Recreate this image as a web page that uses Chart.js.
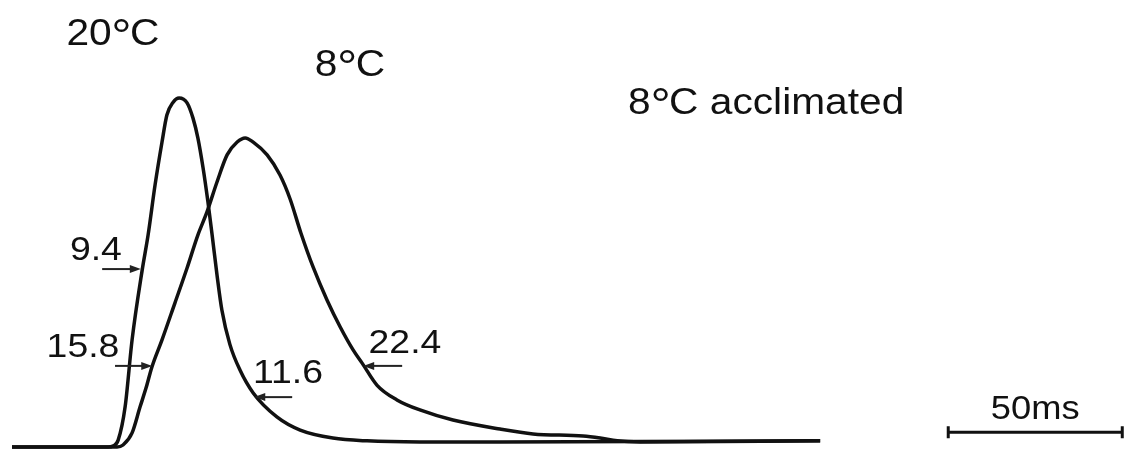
<!DOCTYPE html>
<html>
<head>
<meta charset="utf-8">
<script src="https://cdn.jsdelivr.net/npm/chart.js@4/dist/chart.umd.min.js"></script>
<style>
  html, body { margin: 0; padding: 0; background: #fff; }
  #wrap { width: 1124px; height: 449px; position: relative; }
</style>
</head>
<body>
<div id="wrap"><canvas id="chart"></canvas></div>
<script>
// twitch traces, time in ms, amplitude relative to 20°C peak
const time20 = [0, 27.6, 29.0, 30.5, 32.5, 34.5, 37.4, 39.1, 41.1, 43.1, 44.5, 46.3, 48.0, 50.3, 52.0, 53.4, 54.9, 56.3, 57.5, 58.9, 60.3, 62.6, 65.5, 69.3, 76.1, 82.8, 92.2, 102.0, 117.2, 140.2, 232.2];
const amp20 = [-0.006, -0.006, -0.003, 0.014, 0.110, 0.303, 0.504, 0.605, 0.749, 0.873, 0.951, 0.988, 1.000, 0.986, 0.942, 0.885, 0.798, 0.700, 0.605, 0.490, 0.389, 0.290, 0.216, 0.150, 0.081, 0.043, 0.020, 0.012, 0.009, 0.009, 0.012];

const time8 = [0, 28.7, 30.2, 31.9, 34.5, 36.8, 38.5, 40.2, 43.1, 46.8, 50.3, 53.4, 56.0, 58.9, 61.8, 64.7, 67.0, 69.3, 73.3, 77.0, 79.9, 83.0, 86.5, 90.5, 94.3, 98.0, 100.6, 104.9, 110.6, 117.2, 126.7, 140.2, 149.7, 164.1, 169.0, 173.9, 180.5, 232.2];
const amp8 = [-0.006, -0.006, -0.006, 0.000, 0.035, 0.110, 0.164, 0.225, 0.303, 0.409, 0.510, 0.605, 0.671, 0.758, 0.836, 0.873, 0.885, 0.873, 0.836, 0.778, 0.709, 0.611, 0.513, 0.418, 0.340, 0.274, 0.236, 0.172, 0.130, 0.101, 0.072, 0.046, 0.032, 0.026, 0.020, 0.012, 0.009, 0.012];

const seriesNames = ['20°C', '8°C', '8°C acclimated'];
const widthLabels = ['9.4', '15.8', '11.6', '22.4'];
const scaleBarMs = 50;
const scaleBarText = '50ms';

const toPoints = (xs, ys) => xs.map((x, i) => ({ x: x, y: ys[i] }));

// where the labels sit, in data units (ms, amplitude)
const titleSpots = [[29.0, 1.190], [97.1, 1.101], [216.7, 0.991]];
// text centre, arrow tail, arrow tip, arrow level
const widthSpots = [
  { tx: 24.1, ty: 0.568, from: 25.9, to: 37.0, y: 0.507 },
  { tx: 20.4, ty: 0.288, from: 29.6, to: 40.3, y: 0.228 },
  { tx: 79.3, ty: 0.213, from: 80.5, to: 69.6, y: 0.138 },
  { tx: 112.9, ty: 0.300, from: 112.1, to: 100.9, y: 0.228 }
];
const barStart = 269.0, barLevel = 0.037;
const barText = [294.0, 0.110];

const INK = '#111';
const FONT = '"Liberation Sans", Arial, sans-serif';
const STRETCH = 1.1;

function drawText(ctx, text, px, py, size) {
  ctx.save();
  ctx.translate(px, py + size * 0.358);
  ctx.scale(STRETCH, 1);
  ctx.font = size + 'px ' + FONT;
  ctx.textAlign = 'center';
  ctx.textBaseline = 'alphabetic';
  ctx.fillStyle = INK;
  ctx.fillText(text, 0, 0);
  ctx.restore();
}

// same, but with a larger raised degree sign like the print
function drawTitle(ctx, text, px, py, size) {
  const parts = text.split('°');
  if (parts.length < 2) return drawText(ctx, text, px, py, size);
  const big = size * 1.25;
  ctx.save();
  ctx.fillStyle = INK;
  ctx.textBaseline = 'alphabetic';
  ctx.textAlign = 'left';
  ctx.font = size + 'px ' + FONT;
  const w0 = ctx.measureText(parts[0]).width;
  const w1 = ctx.measureText(parts[1]).width;
  ctx.font = big + 'px ' + FONT;
  const wd = ctx.measureText('°').width * 0.9;
  const total = (w0 + wd + w1) * STRETCH;
  ctx.translate(px - total / 2, py + size * 0.358);
  ctx.scale(STRETCH, 1);
  ctx.font = size + 'px ' + FONT;
  ctx.fillText(parts[0], 0, 0);
  ctx.font = big + 'px ' + FONT;
  ctx.fillText('°', w0 - wd * 0.02, size * 0.18);
  ctx.font = size + 'px ' + FONT;
  ctx.fillText(parts[1], w0 + wd, 0);
  ctx.restore();
}

function drawArrow(ctx, x1, x2, y) {
  const dir = x2 > x1 ? 1 : -1;
  ctx.save();
  ctx.strokeStyle = '#222';
  ctx.fillStyle = '#222';
  ctx.lineWidth = 2;
  ctx.beginPath();
  ctx.moveTo(x1, y);
  ctx.lineTo(x2 - dir * 8, y);
  ctx.stroke();
  ctx.beginPath();
  ctx.moveTo(x2, y);
  ctx.lineTo(x2 - dir * 11, y - 4);
  ctx.lineTo(x2 - dir * 11, y + 4);
  ctx.closePath();
  ctx.fill();
  ctx.restore();
}

const notes = {
  id: 'notes',
  afterDatasetsDraw(chart) {
    const ctx = chart.ctx;
    const xs = chart.scales.x, ys = chart.scales.y;
    seriesNames.forEach((name, i) => {
      drawTitle(ctx, name, xs.getPixelForValue(titleSpots[i][0]), ys.getPixelForValue(titleSpots[i][1]), 37);
    });
    widthLabels.forEach((txt, i) => {
      const s = widthSpots[i];
      drawText(ctx, txt, xs.getPixelForValue(s.tx), ys.getPixelForValue(s.ty), 34);
      drawArrow(ctx, xs.getPixelForValue(s.from), xs.getPixelForValue(s.to), ys.getPixelForValue(s.y));
    });
    // scale bar
    const bx1 = xs.getPixelForValue(barStart);
    const bx2 = xs.getPixelForValue(barStart + scaleBarMs);
    const by = ys.getPixelForValue(barLevel);
    ctx.save();
    ctx.strokeStyle = INK;
    ctx.lineWidth = 3;
    ctx.beginPath();
    ctx.moveTo(bx1, by); ctx.lineTo(bx2, by);
    ctx.moveTo(bx1, by - 6); ctx.lineTo(bx1, by + 6);
    ctx.moveTo(bx2, by - 6); ctx.lineTo(bx2, by + 6);
    ctx.stroke();
    ctx.restore();
    drawText(ctx, scaleBarText, xs.getPixelForValue(barText[0]), ys.getPixelForValue(barText[1]), 33);
  }
};

new Chart(document.getElementById('chart'), {
  type: 'line',
  data: {
    datasets: [
      { label: seriesNames[0], data: toPoints(time20, amp20) },
      { label: seriesNames[1], data: toPoints(time8, amp8) }
    ]
  },
  options: {
    responsive: true,
    maintainAspectRatio: false,
    animation: false,
    layout: { padding: 0 },
    elements: {
      point: { radius: 0 },
      line: { borderColor: INK, borderWidth: 3.5, cubicInterpolationMode: 'monotone', fill: false }
    },
    scales: {
      x: { type: 'linear', display: false, min: -3.45, max: 319.5 },
      y: { display: false, min: -0.0115, max: 1.2824 }
    },
    plugins: {
      legend: { display: false },
      tooltip: { enabled: false }
    }
  },
  plugins: [notes]
});
</script>
</body>
</html>
